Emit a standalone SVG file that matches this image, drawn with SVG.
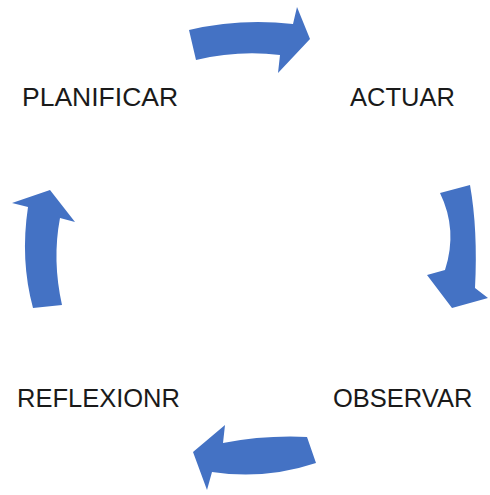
<svg xmlns="http://www.w3.org/2000/svg" width="490" height="495" viewBox="0 0 490 495">
<style>
.arrow{fill:#4472C4;}
.lbl{font-family:"Liberation Sans",Arial,sans-serif;font-size:25.5px;fill:#1a1a1a;}
</style>
<rect width="490" height="495" fill="#ffffff"/>
<g id="nodes">
<g id="planificar"><text class="lbl" x="22" y="106" style="font-size:26.5px">PLANIFICAR</text></g>
<g id="actuar"><text class="lbl" x="350" y="106">ACTUAR</text></g>
<g id="observar"><text class="lbl" x="333" y="407">OBSERVAR</text></g>
<g id="reflexionr"><text class="lbl" x="17" y="407">REFLEXIONR</text></g>
</g>
<g id="connectors">
<path class="arrow" d="M189,30 Q240,18 293,24 L297,7 L310,39 L278,73 L280,55 Q238,50 196,60 Z"/>
<path class="arrow" d="M440,193 Q458,230 445,270 L427,275 L452,308 L488,298 L475,288 Q478,230 470,185 Z"/>
<path class="arrow" d="M307,437 Q265,435 223,443 L225,425 L193,452 L207,490 L212,472 Q265,480 316,463 Z"/>
<path class="arrow" d="M33,308 Q20,260 28,207 L12,203 L50,190 L75,222 L60,218 Q52,260 62,305 Z"/>
</g>
</svg>
